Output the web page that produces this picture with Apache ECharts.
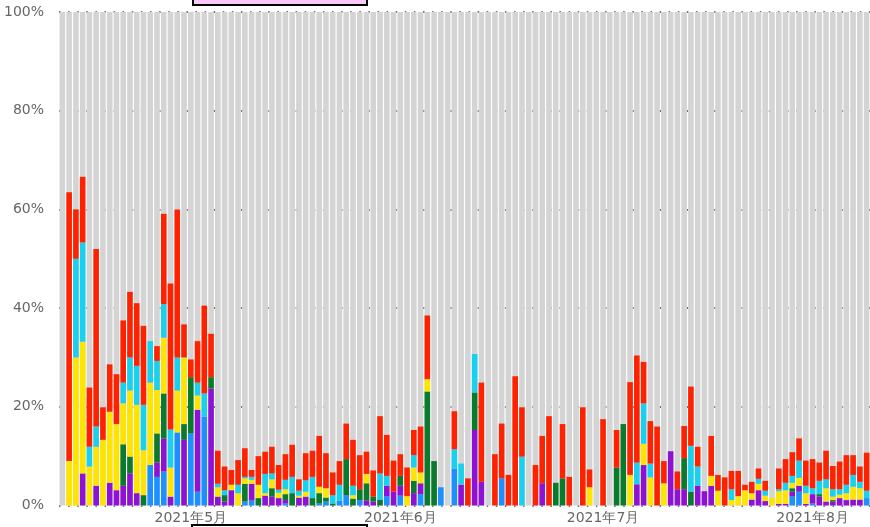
<!DOCTYPE html>
<html>
<head>
<meta charset="utf-8">
<script src="https://cdn.jsdelivr.net/npm/echarts@6/dist/echarts.min.js"></script>
<style>
  html, body { margin: 0; padding: 0; background: #fff; }
  #chart { width: 870px; height: 527px; }
</style>
</head>
<body>
<div id="chart"></div>
<script>
// daily share (%) per category, starting 2021-04-12
var startDate = '2021-04-12';

var blue = [0,0,0,0,0,0,0,0,0,0, 0,0,0,8.2,5.8,6.9,0,14.8,0,14.6, 2.8,18.0,0,0,0,0,0,0.8,1.0,0,
  0,0,0,0.4,0,0,0,0,0.4,0.8, 0,1.0,2.1,0,1.1,0,0,0,1.9,0, 2.0,0,0,2.3,0,0,3.7,0,7.5,0,
  0,0,0,0,0,5.5,0,0,0,0, 0,0,0,0,0,0,0,0,0,0, 0,0,0,0,0,0,0,0,0,0,
  0,0,0,0,0,0,0,0,0,0, 0,0,0,0,0,0,0,0,1.9,2.8, 0,0.4,0,0,0,0,0,0,0,1.5];
var purple = [0,0,0,6.5,0,4.0,0,4.6,3.1,4.0, 6.5,2.5,0,0,2.9,6.7,1.8,0,13.3,0, 16.6,0,23.7,1.8,0.8,3.1,0,0,3.4,0,
  2.0,1.8,1.5,0.7,0,1.6,1.8,0,0,0, 0,0,0,0,0,1.0,0.8,0,2.1,2.8, 2.0,0,2.5,2.2,0,0,0,0,0,4.2,
  0,15.3,4.8,0,0,0,0,0,0,0, 0,4.5,0,0,0,0,0,0,0,0, 0,0,0,0,0,4.3,8.2,0,0,0,
  11.0,3.3,3.3,0,4.0,2.9,4.0,0,0,0, 0,0,1.2,3.1,0.9,0,0.3,0.3,0.9,1.2, 0.3,1.9,1.8,0.8,0.8,1.5,1.1,1.2,1.2,0];
var green = [0,0,0,0,0,0,0,0,0,8.4, 3.4,0,2.1,0,5.9,9.1,0,0,3.2,11.4, 0,0,2.3,0,1.3,0,0,3.6,0,1.5,
  0,1.7,0,1.2,2.5,0,0,1.5,2.1,0.8, 0.4,0,7.3,1.4,2.2,3.5,1.0,1.2,0,0, 2.0,0,2.5,0,23.1,9.0,0,0,0,0,
  0,7.6,0,0,0,0,0,0,0,0, 0,0,0,4.6,5.5,0,0,0,0,0, 0,0,7.7,16.5,0,0,0,0,0,0,
  0,0,6.3,2.8,0,0,0,0,0,0, 0,0,0,0,0,0,0,0,0.7,0, 0,0,0.5,0,0.3,0,0,0,0,0];
var yellow = [0,9.0,30.0,26.7,7.9,7.9,13.3,14.4,13.4,8.3, 13.4,17.9,9.1,16.7,8.8,11.3,5.9,8.5,13.5,0, 2.9,0,0,1.9,0,1.1,2.5,1.1,0.8,2.7,
  0.5,1.8,1.1,1.0,0,0.4,1.0,0,1.3,1.9, 0,0,0,0.7,0,1.9,0,0,0,0, 0,1.9,2.7,2.2,2.5,0,0,0,0,0,
  0,0,0,0,0,0,0,0,0,0, 0,0,0,0,0,0,0,0,3.7,0, 0,0,0,0,6.2,0,4.3,5.7,0,4.5,
  0,0,0,0,0,0,2.0,3.0,0,1.1, 1.9,3.1,1.3,1.3,1.1,1.5,2.6,2.8,1.1,1.6, 2.2,0,0,2.7,0.7,0.7,1.4,2.6,2.3,0];
var cyan = [0,0,20.0,20.1,4.0,4.1,0,0,0,4.2, 6.7,7.9,9.2,8.4,5.9,6.8,7.7,6.7,0,0, 2.6,4.7,0,0.7,1.0,0,1.7,0.3,0.6,0,
  3.9,1.2,0.6,1.9,3.3,1.0,2.3,4.3,0,0, 1.7,3.2,0,1.9,0,0,0,5.3,2.0,0, 0,0,2.5,0,0,0,0,0,3.9,4.3,
  0,7.8,0,0,0,0,0,0,9.9,0, 0,0,0,0,0,0,0,0,0,0, 0,0,0,0,0,4.4,8.2,2.8,0,0,
  0,0,0,9.3,3.9,0,0,0,0,2.2, 0,0,0,1.0,1.0,0,0.4,1.5,1.4,3.5, 1.5,1.2,2.7,1.8,1.5,1.1,1.7,2.4,1.3,1.5];
var red = [0,54.5,10.0,13.3,12.0,36.0,6.6,9.6,10.1,12.6, 13.3,12.7,16.0,0,3.0,18.3,29.6,30.0,6.7,3.6, 8.4,17.8,8.8,6.7,4.8,3.0,5.0,5.8,1.4,5.8,
  4.5,5.4,5.0,5.2,6.5,2.3,5.5,5.3,10.3,7.1, 4.6,4.8,7.2,9.3,6.9,4.5,5.3,11.6,8.3,6.3, 4.4,5.8,5.1,9.3,12.9,0,0,0,7.7,0,
  5.5,0,20.1,0,10.4,11.1,6.2,26.2,10.0,0, 8.2,9.6,18.1,0,11.0,5.8,0,19.9,3.6,0, 17.5,0,7.6,0,18.8,21.7,8.4,8.6,16.0,4.5,
  0,3.6,6.5,12.0,4.0,0,8.1,3.2,5.7,3.7, 5.1,1.1,2.3,2.1,2.0,0,4.2,4.8,4.8,4.5, 5.1,5.9,3.7,5.8,4.7,5.6,6.0,4.0,3.1,7.7];

var yTicks = [0, 20, 40, 60, 80, 100];

var colors = {
  blue: '#1e8fff',
  purple: '#8e12d4',
  green: '#0a7a2c',
  yellow: '#ffe400',
  cyan: '#19d0ee',
  red: '#ff2200',
  rest: '#d4d4d4'
};

var dates = [];
(function() {
  var d = new Date(startDate + 'T00:00:00Z');
  for (var i = 0; i < red.length; i++) {
    var m = d.getUTCMonth() + 1, day = d.getUTCDate();
    dates.push('2021-' + (m < 10 ? '0' : '') + m + '-' + (day < 10 ? '0' : '') + day);
    d.setUTCDate(d.getUTCDate() + 1);
  }
})();

var makeSerie = function(name, values, bg) {
  var s = {
    name: name,
    type: 'bar',
    stack: 'share',
    barWidth: 5.6,
    data: values,
    itemStyle: { color: colors[name] },
    emphasis: { disabled: true }
  };
  if (bg) {
    s.showBackground = true;
    s.backgroundStyle = { color: colors.rest };
  }
  return s;
};

var chart = echarts.init(document.getElementById('chart'), null, { renderer: 'canvas' });

var option = {
  animation: false,
  backgroundColor: '#ffffff',
  grid: { left: 59, right: -5, top: 12, bottom: 21.5 },
  xAxis: {
    type: 'category',
    data: dates,
    axisLine: { show: false },
    axisTick: { show: false },
    axisLabel: {
      margin: 6,
      color: '#666',
      fontFamily: 'DejaVu Sans',
      fontSize: 14,
      interval: function(i, v) { return v.slice(8) === '01'; },
      formatter: function(v) { return '2021年' + parseInt(v.slice(5, 7), 10) + '月'; }
    }
  },
  yAxis: {
    type: 'value',
    min: yTicks[0],
    max: yTicks[yTicks.length - 1],
    interval: yTicks[1] - yTicks[0],
    axisLine: { show: false },
    axisTick: { show: false },
    axisLabel: {
      margin: 15,
      color: '#666',
      fontFamily: 'DejaVu Sans',
      fontSize: 14,
      formatter: '{value}%'
    },
    splitLine: { lineStyle: { color: '#444', width: 1.5, type: [1.5, 7.6] } }
  },
  series: [
    makeSerie('blue', blue, true),
    makeSerie('purple', purple),
    makeSerie('green', green),
    makeSerie('yellow', yellow),
    makeSerie('cyan', cyan),
    makeSerie('red', red)
  ],
  graphic: [
    { type: 'rect', shape: { x: 193, y: -10, width: 174, height: 15 },
      style: { fill: '#f9c8f8', stroke: '#000', lineWidth: 2 }, z: 100 },
    { type: 'rect', shape: { x: 192, y: 525, width: 175, height: 20 },
      style: { fill: '#fff', stroke: '#000', lineWidth: 2 }, z: 100 }
  ]
};

chart.setOption(option);
</script>
</body>
</html>
